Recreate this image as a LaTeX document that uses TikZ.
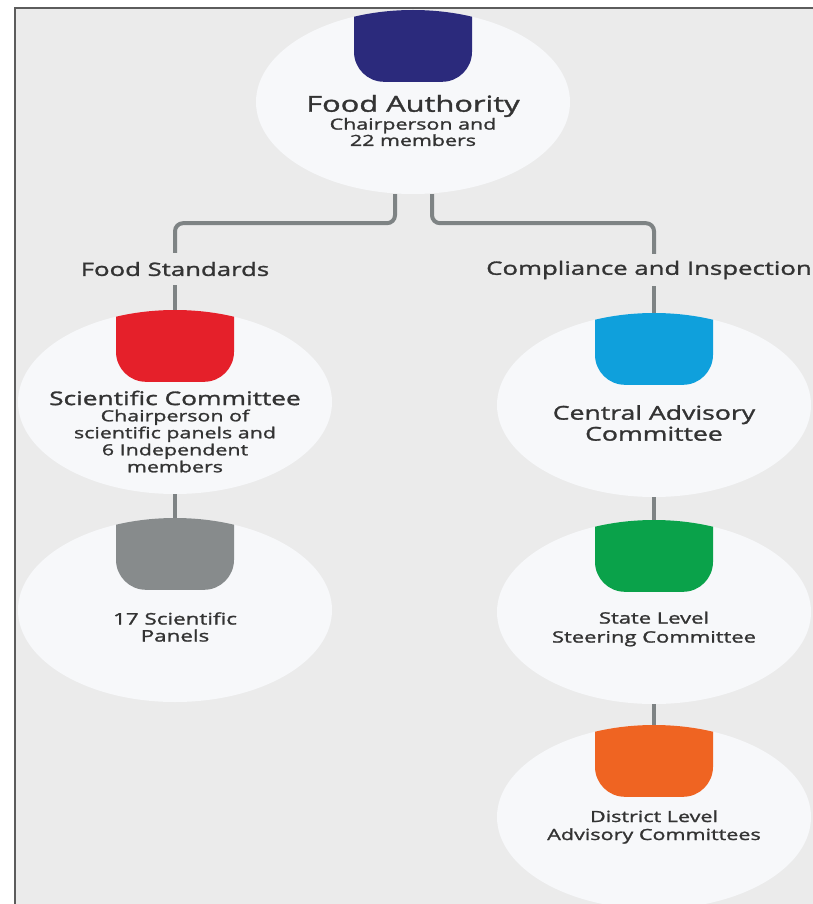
\documentclass[tikz,border=0pt]{standalone}
\usepackage{fontspec}
\setmainfont{Open Sans}
\newfontfamily\semib{Open Sans}[FakeStretch=1.4, FakeBold=1.5]
\usetikzlibrary{shapes.geometric,calc}
\definecolor{bg}{HTML}{EBEBEB}
\definecolor{discfill}{HTML}{F7F8FA}
\definecolor{conncol}{HTML}{7E8384}
\definecolor{framecol}{HTML}{5C5C5C}
\definecolor{txt}{HTML}{333333}
\definecolor{navy}{HTML}{2B2A7C}
\definecolor{capred}{HTML}{E5202A}
\definecolor{capgray}{HTML}{878B8C}
\definecolor{capblue}{HTML}{0FA0DC}
\definecolor{capgreen}{HTML}{0AA24A}
\definecolor{caporange}{HTML}{EF6422}
\tikzset{
  disc/.style={ellipse, fill=discfill, minimum width=314pt, minimum height=184pt, inner sep=0pt},
  conn/.style={draw=conncol, line width=4pt},
  lbl/.style={text=txt, align=center, inner sep=0pt},
}
\newcommand\dcap[2]{%
  \begin{scope}
    \clip (#1.center) ellipse [x radius=157pt, y radius=92pt];
    \fill[#2, rounded corners=30pt] ($(#1.north)+(-59,-40)$) rectangle ($(#1.north)+(59,72)$);
  \end{scope}}
\begin{document}
\begin{tikzpicture}[x=1pt,y=-1pt]
\useasboundingbox (0,0) rectangle (813,904);
\fill[bg] (15,8) rectangle (813,904);
\draw[framecol, line width=2.5pt] (15,904) -- (15,8) -- (813,8);

% discs
\node[disc] (fa) at (413,102) {};
\node[disc] (sc) at (175,402) {};
\node[disc] (sp) at (175,610) {};
\node[disc] (ca) at (654,405) {};
\node[disc] (sl) at (654,612) {};
\node[disc] (dl) at (654,817) {};
\dcap{fa}{navy}
\dcap{sc}{capred}
\dcap{sp}{capgray}
\dcap{ca}{capblue}
\dcap{sl}{capgreen}
\dcap{dl}{caporange}

% texts
\node[lbl, font=\semib\fontsize{22}{24}\selectfont] (fat) at (413,106) {Food Authority};
\node[lbl, font=\semib\fontsize{15.3}{14.5}\selectfont] (fas) at (413,132) {Chairperson and\\22 members};
\node[lbl, font=\semib\fontsize{18.8}{21}\selectfont] (sct) at (175,398) {Scientific Committee};
\node[lbl, font=\semib\fontsize{15.3}{17}\selectfont] (scs) at (175,441) {Chairperson of\\scientific panels and\\6 Independent\\members};
\node[lbl, font=\semib\fontsize{16}{17}\selectfont] (spt) at (175,627) {17 Scientific\\Panels};
\node[lbl, font=\semib\fontsize{19}{21}\selectfont] (cat) at (654,423) {Central Advisory\\Committee};
\node[lbl, font=\semib\fontsize{15.7}{19}\selectfont] (slt) at (654,629) {State Level\\Steering Committee};
\node[lbl, font=\semib\fontsize{15.4}{18}\selectfont] (dlt) at (654,827) {District Level\\Advisory Committees};

% branch labels
\node[lbl, font=\semib\fontsize{18.4}{20}\selectfont, minimum height=32pt] (fs) at (175,269) {Food Standards};
\node[lbl, font=\semib\fontsize{18.4}{20}\selectfont, minimum height=32pt] (cs) at (649,270) {Compliance and Inspection};

% connectors
\draw[conn, rounded corners=8pt] ([xshift=-18pt]fa.south) -- ++(0,29) -| (fs.north);
\draw[conn, rounded corners=8pt] ([xshift=19pt]fa.south) -- ++(0,29) -| (cs.north -| ca.north);
\draw[conn] (fs.south) -- (sc.north);
\draw[conn] (cs.south -| ca.north) -- (ca.north);
\draw[conn] (sc.south) -- (sp.north);
\draw[conn] (ca.south) -- (sl.north);
\draw[conn] (sl.south) -- (dl.north);
\end{tikzpicture}
\end{document}
